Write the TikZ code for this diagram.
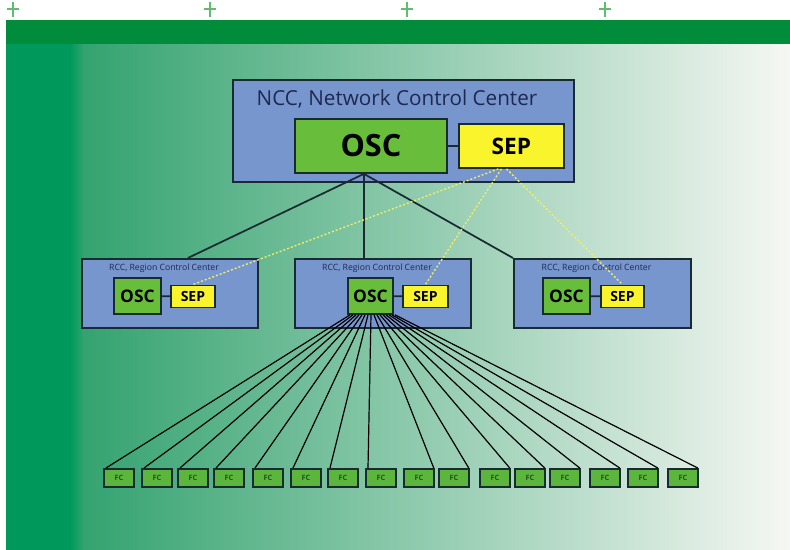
\documentclass[tikz,border=0pt]{standalone}
\usepackage{fontspec}
\setmainfont{Open Sans}
\usetikzlibrary{calc}

\definecolor{topgreen}{RGB}{0,140,58}
\definecolor{stripgreen}{RGB}{0,153,92}
\definecolor{fadegreen}{RGB}{52,163,112}
\definecolor{midgreen}{RGB}{165,203,172}
\definecolor{fadewhite}{RGB}{246,247,243}
\definecolor{crossgreen}{RGB}{95,190,110}
\definecolor{boxblue}{RGB}{120,150,206}
\definecolor{boxedge}{RGB}{25,42,48}
\definecolor{oscgreen}{RGB}{104,190,58}
\definecolor{sepyellow}{RGB}{250,244,45}
\definecolor{fcgreen}{RGB}{92,182,62}
\definecolor{titlenavy}{RGB}{30,40,80}
\definecolor{fctext}{RGB}{30,85,30}
\definecolor{linkyellow}{RGB}{242,240,95}

\newcommand{\px}{0.75pt}

\tikzset{every picture/.style={line width=0.75pt}}
\tikzset{
  ccbox/.style={draw=boxedge, fill=boxblue, line width=1.6pt, inner sep=0pt, anchor=north west},
  oscbox/.style={draw=boxedge, fill=oscgreen, line width=1.4pt, inner sep=0pt, anchor=north west, font=\bfseries},
  sepbox/.style={draw=boxedge, fill=sepyellow, line width=1.4pt, inner sep=0pt, anchor=north west, font=\bfseries},
  fcbox/.style={draw=boxedge, fill=fcgreen, line width=1.3pt, inner sep=0pt, anchor=north west,
    minimum width=30*\px, minimum height=18*\px, text=fctext, font=\bfseries\fontsize{5.5}{6}\selectfont},
  cctitle/.style={inner sep=0pt, text=titlenavy},
  oscline/.style={draw=boxedge, line width=1.3pt},
  fcline/.style={draw=black, line width=0.9pt},
  seplink/.style={draw=linkyellow, line width=1pt, dash pattern=on 1.5pt off 1.5pt},
  cropmark/.style={draw=crossgreen, line width=1.3pt}
}

\begin{document}
\begin{tikzpicture}[x=0.75pt,y=0.75pt,yscale=-1,xscale=1]
\useasboundingbox (0,0) rectangle (790,550);

%Shape: Rectangle [background]
\fill[topgreen] (6,20) rectangle (790,44);
\fill[stripgreen] (6,44) rectangle (71,550);
\shade[left color=stripgreen, right color=fadegreen] (70,44) rectangle (84,550);
\shade[left color=fadegreen, middle color=midgreen, right color=fadewhite] (83,44) rectangle (790,550);
%crop marks
\foreach \cx in {13,210,407,605} {
  \draw[cropmark] (\cx,2) -- (\cx,17) (\cx-6,9) -- (\cx+6,9);
}

%NCC
\node[ccbox, minimum width=341*\px, minimum height=102*\px] (ncc) at (232,79) {};
\node[cctitle, font=\fontsize{15.5}{16}\selectfont] (ncctitle) at (397,99) {NCC, Network Control Center};
\node[oscbox, minimum width=152*\px, minimum height=54*\px, font=\bfseries\fontsize{23}{24}\selectfont] (nccosc) at (294,118) {OSC};
\node[sepbox, minimum width=105*\px, minimum height=44*\px, font=\bfseries\fontsize{17}{18}\selectfont] (nccsep) at (458,123) {SEP};
\draw[oscline] (nccosc) -- (nccsep);

%RCC boxes
\foreach \nm/\bx/\bw/\ox/\ow/\sx/\sw in {L/81/176/113/47/170/44, M/294/176/347/45/402/45, R/513/177/542/47/600/43} {
  \node[ccbox, minimum width=\bw*\px, minimum height=69*\px] (rcc\nm) at (\bx,258) {};
  \node[cctitle, font=\fontsize{6.5}{7}\selectfont, anchor=north] (rcctitle\nm) at (\bx+\bw/2-5,263) {RCC, Region Control Center};
  \node[oscbox, minimum width=\ow*\px, minimum height=36*\px, font=\bfseries\fontsize{13}{14}\selectfont] (osc\nm) at (\ox,277) {OSC};
  \node[sepbox, minimum width=\sw*\px, minimum height=22*\px, font=\bfseries\fontsize{10.5}{11}\selectfont] (sep\nm) at (\sx,284.5) {SEP};
  \draw[oscline] (osc\nm) -- (sep\nm);
}

%NCC to RCC
\coordinate (nccfoot) at ($(nccosc.south)+(-7,0)$);
\draw[oscline] (nccfoot) -- ($(rccL.north west)!0.6!(rccL.north east)$);
\draw[oscline] (nccfoot) -- (nccfoot |- rccM.north);
\draw[oscline] (nccfoot) -- (rccR.north west);

%SEP links
\draw[seplink] ($(nccsep.south)+(-13,0)$) -- (sepL.north);
\draw[seplink] ($(nccsep.south)+(-10,0)$) -- (sepM.north);
\draw[seplink] ($(nccsep.south)+(-5,0)$) -- (sepR.north);

%FC row
\foreach \fx [count=\i] in {103,141,177,213,252,290,327,365,403,438,479,514,549,589,627,667} {
  \node[fcbox] (fc\i) at (\fx,468) {FC};
}
\foreach \i in {1,...,8} {
  \draw[fcline] ($(oscM.south west)+(3*\i,0)$) -- ($(fc\i.north west)+(3,0)$);
}
\foreach \i in {9,...,16} {
  \draw[fcline] ($(oscM.south west)+(3*\i,0)$) -- ($(fc\i.north east)+(-1,0)$);
}

\end{tikzpicture}
\end{document}
